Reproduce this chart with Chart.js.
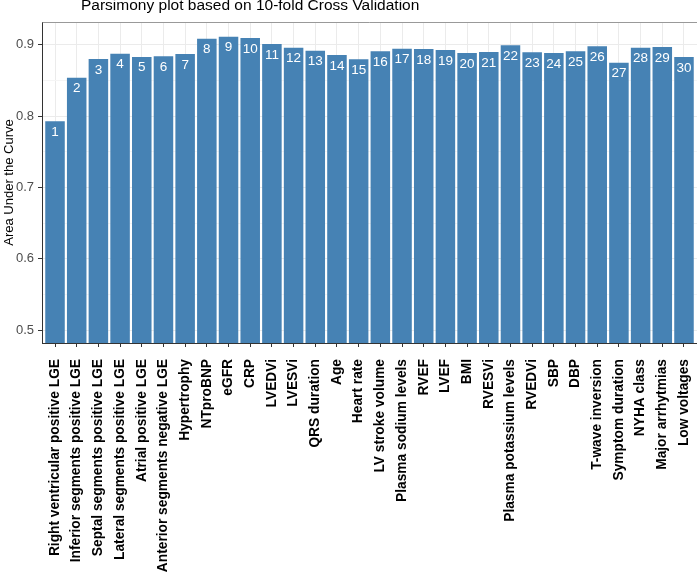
<!DOCTYPE html>
<html>
<head>
<meta charset="utf-8">
<script src="https://cdn.jsdelivr.net/npm/chart.js@4"></script>
<style>
  body { margin: 0; background: #fff; }
</style>
</head>
<body>
<canvas id="parsimonyChart" width="697" height="575"></canvas>
<script>
var variables = [
  "Right ventricular positive LGE", "Inferior segments positive LGE", "Septal segments positive LGE",
  "Lateral segments positive LGE", "Atrial positive LGE", "Anterior segments negative LGE",
  "Hypertrophy", "NTproBNP", "eGFR", "CRP", "LVEDVi", "LVESVi", "QRS duration", "Age",
  "Heart rate", "LV stroke volume", "Plasma sodium levels", "RVEF", "LVEF", "BMI", "RVESVi",
  "Plasma potassium levels", "RVEDVi", "SBP", "DBP", "T-wave inversion", "Symptom duration",
  "NYHA class", "Major arrhytmias", "Low voltages"
];
var auc = [
  0.793, 0.854, 0.880, 0.8875, 0.883, 0.884, 0.887, 0.9086, 0.9114, 0.9095,
  0.901, 0.896, 0.8917, 0.8857, 0.8797, 0.8909, 0.8946, 0.8941, 0.8927, 0.8885,
  0.8899, 0.8993, 0.8895, 0.8885, 0.8909, 0.8979, 0.8749, 0.8959, 0.8969, 0.8829
];
var yTicks = [0.5, 0.55, 0.6, 0.65, 0.7, 0.75, 0.8, 0.85, 0.9];

var FONT = "'Liberation Sans', Arial, Helvetica, sans-serif";

function isMajor(v) {
  return Math.abs(v * 10 - Math.round(v * 10)) < 1e-6;
}

var panelExtras = {
  id: 'panelExtras',
  afterDatasetsDraw: function(chart) {
    var ctx = chart.ctx;
    var a = chart.chartArea;
    ctx.save();
    // bar numbers
    var meta = chart.getDatasetMeta(0);
    ctx.fillStyle = '#ffffff';
    ctx.font = '13.5px ' + FONT;
    ctx.textAlign = 'center';
    ctx.textBaseline = 'alphabetic';
    meta.data.forEach(function(bar, i) {
      ctx.fillText(String(i + 1), bar.x, bar.y + 14.5);
    });
    // panel border top (right edge falls outside the picture)
    ctx.strokeStyle = '#999999';
    ctx.lineWidth = 1;
    ctx.beginPath();
    ctx.moveTo(Math.round(a.left) + 0.5, Math.round(a.top) + 0.5);
    ctx.lineTo(Math.round(a.right), Math.round(a.top) + 0.5);
    ctx.stroke();
    ctx.restore();
  },
  afterDraw: function(chart) {
    var ctx = chart.ctx;
    var a = chart.chartArea;
    ctx.save();
    ctx.fillStyle = '#000000';
    ctx.font = '15.5px ' + FONT;
    ctx.textAlign = 'left';
    ctx.textBaseline = 'alphabetic';
    ctx.fillText('Parsimony plot based on 10-fold Cross Validation', 81, 9.5);
    ctx.translate(13, (a.top + a.bottom) / 2);
    ctx.rotate(-Math.PI / 2);
    ctx.font = '13px ' + FONT;
    ctx.textAlign = 'center';
    ctx.fillText('Area Under the Curve', 0, 0);
    ctx.restore();
  }
};

var ctx = document.getElementById('parsimonyChart').getContext('2d');
var chart = new Chart(ctx, {
  type: 'bar',
  data: {
    datasets: [{
      label: 'AUC',
      data: auc.map(function(v, i) { return { x: i + 1, y: v }; }),
      backgroundColor: '#4682B4',
      borderWidth: 0,
      categoryPercentage: 1.0,
      barPercentage: 0.9
    }]
  },
  options: {
    responsive: false,
    animation: false,
    devicePixelRatio: 1,
    layout: { padding: { top: 22, right: 0, left: 0, bottom: 0 } },
    plugins: {
      legend: { display: false },
      title: { display: false },
      tooltip: { enabled: false }
    },
    scales: {
      x: {
        type: 'linear',
        min: 0.4,
        max: 30.6,
        offset: false,
        afterBuildTicks: function(scale) {
          scale.ticks = variables.map(function(_, i) { return { value: i + 1 }; });
        },
        afterFit: function(scale) {
          scale.height = 232;
          scale.paddingLeft = 0;
          scale.paddingRight = 0;
        },
        grid: {
          offset: false,
          color: '#EBEBEB',
          lineWidth: 1,
          tickColor: '#333333',
          tickLength: 4
        },
        border: { display: true, color: '#333333', width: 1 },
        ticks: {
          autoSkip: false,
          minRotation: 90,
          maxRotation: 90,
          padding: 12,
          color: '#000000',
          font: { family: FONT, size: 13.75, weight: 'bold' },
          callback: function(value, index) { return variables[index]; }
        }
      },
      y: {
        min: 0.482,
        max: 0.932,
        afterBuildTicks: function(scale) {
          scale.ticks = yTicks.map(function(v) { return { value: v }; });
        },
        afterFit: function(scale) {
          scale.width = 42;
          scale.paddingTop = 0;
          scale.paddingBottom = 0;
        },
        grid: {
          color: function(c) { return isMajor(c.tick.value) ? '#EBEBEB' : '#F5F5F5'; },
          lineWidth: 1,
          tickColor: function(c) { return isMajor(c.tick.value) ? '#333333' : 'rgba(0,0,0,0)'; },
          tickLength: 4
        },
        border: { display: true, color: '#333333', width: 1 },
        ticks: {
          padding: 4,
          color: '#4D4D4D',
          font: { family: FONT, size: 13 },
          callback: function(value) { return isMajor(value) ? value.toFixed(1) : ''; }
        }
      }
    }
  },
  plugins: [panelExtras]
});
</script>
</body>
</html>
